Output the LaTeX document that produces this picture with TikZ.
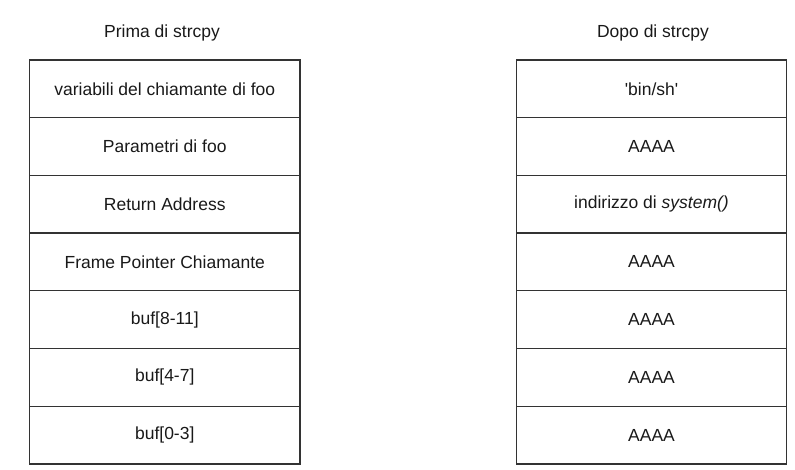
\documentclass[tikz,border=0pt]{standalone}
\usepackage{fontspec}
\setmainfont{Liberation Sans}
\begin{document}
\begin{tikzpicture}[x=1pt, y=-1pt,
  cell/.style={draw=black!80, line width=1.3pt, rectangle, minimum width=270.5pt, minimum height=57.7pt, inner sep=0pt, text=black!90, font=\fontsize{17.5}{20}\selectfont},
  title/.style={text=black!90, font=\fontsize{17.5}{20}\selectfont}]
\useasboundingbox (0,0) rectangle (795,470);
\node[title] (pretitle) at (162,33){Prima di strcpy};
\node[cell] (pre0) at (164.75,88.85){variabili del chiamante di foo};
\node[cell] (pre1) at (164.75,146.55){Parametri di foo};
\node[cell] (pre2) at (164.75,204.25){Return Address};
\node[cell] (pre3) at (164.75,261.95){Frame Pointer Chiamante};
\node[cell] (pre4) at (164.75,319.65){buf[8-11]};
\node[cell] (pre5) at (164.75,377.35){buf[4-7]};
\node[cell] (pre6) at (164.75,435.05){buf[0-3]};

\node[title] (posttitle) at (653,33){Dopo di strcpy};
\node[cell] (post0) at (651.5,88.85){\textquotesingle bin/sh\textquotesingle};
\node[cell] (post1) at (651.5,146.55){AAAA};
\node[cell] (post2) at (651.5,204.25){indirizzo di \textit{system()}};
\node[cell] (post3) at (651.5,261.95){AAAA};
\node[cell] (post4) at (651.5,319.65){AAAA};
\node[cell] (post5) at (651.5,377.35){AAAA};
\node[cell] (post6) at (651.5,435.05){AAAA};

\end{tikzpicture}
\end{document}
